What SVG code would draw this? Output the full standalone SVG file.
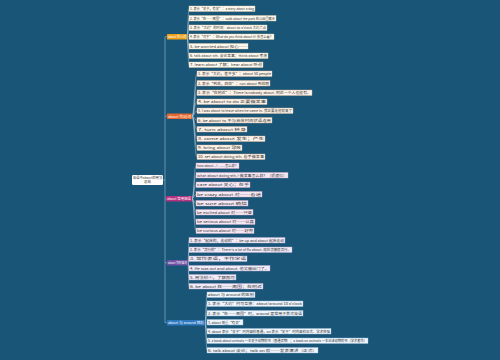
<svg xmlns="http://www.w3.org/2000/svg" width="500" height="360" viewBox="0 0 500 360">
<style>
text{font-family:"Noto Sans CJK SC","Noto Sans",sans-serif;font-size:3.4px;fill:#333}
.bt{fill:#fff;font-size:3.4px}
.leaf{stroke-width:0.4}
.l1{fill:#fffaf0;stroke:#d8c9a0}
.l2{fill:#fdf3ea;stroke:#d9b59c}
.l3{fill:#f6e8f3;stroke:#cfa6c4}
.l4{fill:#f1ecf8;stroke:#b8a8d4}
.l5{fill:#eef5fc;stroke:#9fbfdc}
.c{fill:none;stroke:#b7cddc;stroke-width:0.5}
</style>
<rect width="500" height="360" fill="#185577"/>
<g id="connectors">
<path class="c" d="M163,180 H165 M165,36.75 V322.75 M165,36.75 H167 M165,116.25 H167 M165,198.75 H166 M165,262.75 H167 M165,322.75 H167"/>
<path class="c" d="M187,36.75 C188,36.75 188,8.75 189,8.75 M187,36.75 C188,36.75 188,18.25 189,18.25 M187,36.75 C188,36.75 188,27.75 189,27.75 M187,36.75 H189 M187,36.75 C188,36.75 188,46.25 189,46.25 M187,36.75 C188,36.75 188,55.75 189,55.75 M187,36.75 C188,36.75 188,64.75 189,64.75"/>
<path class="c" d="M192,116.25 C194.5,116.25 194.5,73.75 197,73.75 M192,116.25 C194.5,116.25 194.5,83.25 197,83.25 M192,116.25 C194.5,116.25 194.5,92.75 197,92.75 M192,116.25 C194.5,116.25 194.5,101.75 197,101.75 M192,116.25 C194.5,116.25 194.5,110.75 197,110.75 M192,116.25 C194.5,116.25 194.5,120.25 197,120.25 M192,116.25 C194.5,116.25 194.5,129.25 197,129.25 M192,116.25 C194.5,116.25 194.5,138.75 197,138.75 M192,116.25 C194.5,116.25 194.5,147.75 197,147.75 M192,116.25 C194.5,116.25 194.5,156.75 197,156.75"/>
<path class="c" d="M192,198.75 C194,198.75 194,165.75 196,165.75 M192,198.75 C194,198.75 194,175.25 196,175.25 M192,198.75 C194,198.75 194,184.75 196,184.75 M192,198.75 C194,198.75 194,194.25 196,194.25 M192,198.75 C194,198.75 194,203.25 196,203.25 M192,198.75 C194,198.75 194,212.25 196,212.25 M192,198.75 C194,198.75 194,221.75 196,221.75 M192,198.75 C194,198.75 194,230.75 196,230.75"/>
<path class="c" d="M188,262.75 C188.5,262.75 188.5,240.25 189,240.25 M188,262.75 C188.5,262.75 188.5,249.75 189,249.75 M188,262.75 C188.5,262.75 188.5,258.75 189,258.75 M188,262.75 C188.5,262.75 188.5,268.25 189,268.25 M188,262.75 C188.5,262.75 188.5,277.25 189,277.25 M188,262.75 C188.5,262.75 188.5,286.25 189,286.25"/>
<path class="c" d="M205,322.75 C206,322.75 206,294.75 207,294.75 M205,322.75 C206,322.75 206,303.75 207,303.75 M205,322.75 C206,322.75 206,313.25 207,313.25 M205,322.75 H207 M205,322.75 C206,322.75 206,331.25 207,331.25 M205,322.75 C206,322.75 206,340.75 207,340.75 M205,322.75 C206,322.75 206,350.25 207,350.25"/>
</g>
<g id="root"><rect x="132" y="175" width="31" height="10" rx="1.2" fill="#fff"/><text x="147.5" y="179.3" text-anchor="middle" font-size="3.4">英语中about的用法</text><text x="147.5" y="183.4" text-anchor="middle" font-size="3.4">总结</text></g>
<g id="b1"><rect x="167" y="34" width="20" height="5.5" rx="0.6" fill="#eea21b"/><text class="bt" x="168" y="38" textLength="18" lengthAdjust="spacingAndGlyphs">about 作介词</text></g>
<g id="b1l1"><rect class="leaf l1" x="189" y="6" width="66" height="5.5"/><text x="190" y="10" textLength="64" lengthAdjust="spacingAndGlyphs">1. 表示“关于，有关”：a story about a dog</text></g>
<g id="b1l2"><rect class="leaf l1" x="189" y="15.5" width="87" height="5.5"/><text x="190" y="19.5" textLength="85" lengthAdjust="spacingAndGlyphs">2. 表示“在……周围”：walk about the park 在公园里散步</text></g>
<g id="b1l3"><rect class="leaf l1" x="189" y="25" width="78" height="5.5"/><text x="190" y="29" textLength="76" lengthAdjust="spacingAndGlyphs">3. 表示“大约”的时间：about six o'clock 大约六点</text></g>
<g id="b1l4"><rect class="leaf l1" x="189" y="34" width="85" height="5.5"/><text x="190" y="38" textLength="83" lengthAdjust="spacingAndGlyphs">4. 表示“对于”：What do you think about it? 你怎么看？</text></g>
<g id="b1l5"><rect class="leaf l1" x="189" y="43.5" width="59" height="5.5"/><text x="190" y="47.5" textLength="57" lengthAdjust="spacingAndGlyphs">5. be worried about 担心……</text></g>
<g id="b1l6"><rect class="leaf l1" x="189" y="53" width="79" height="5.5"/><text x="190" y="57" textLength="77" lengthAdjust="spacingAndGlyphs">6. talk about sth. 谈论某事；think about 考虑</text></g>
<g id="b1l7"><rect class="leaf l1" x="189" y="62" width="74" height="5.5"/><text x="190" y="66" textLength="72" lengthAdjust="spacingAndGlyphs">7. learn about 了解；hear about 听说</text></g>
<g id="b2"><rect x="167" y="113.5" width="25" height="5.5" rx="0.6" fill="#e4662c"/><text class="bt" x="168" y="117.5" textLength="23" lengthAdjust="spacingAndGlyphs">about 作副词</text></g>
<g id="b2l1"><rect class="leaf l2" x="197" y="71" width="75" height="5.5"/><text x="198" y="75" textLength="73" lengthAdjust="spacingAndGlyphs">1. 表示“大约，差不多”：about 50 people</text></g>
<g id="b2l2"><rect class="leaf l2" x="197" y="80.5" width="73" height="5.5"/><text x="198" y="84.5" textLength="71" lengthAdjust="spacingAndGlyphs">2. 表示“到处，四处”：run about 到处跑</text></g>
<g id="b2l3"><rect class="leaf l2" x="197" y="90" width="115" height="5.5"/><text x="198" y="94" textLength="113" lengthAdjust="spacingAndGlyphs">3. 表示“在附近”：There is nobody about. 附近一个人也没有。</text></g>
<g id="b2l4"><rect class="leaf l2" x="197" y="99" width="70" height="5.5"/><text x="198" y="103" textLength="68" lengthAdjust="spacingAndGlyphs">4. be about to do 正要做某事</text></g>
<g id="b2l5"><rect class="leaf l2" x="197" y="108" width="96" height="5.5"/><text x="198" y="112" textLength="94" lengthAdjust="spacingAndGlyphs">5. I was about to leave when he came in. 我正要走他就来了</text></g>
<g id="b2l6"><rect class="leaf l2" x="197" y="117.5" width="75" height="5.5"/><text x="198" y="121.5" textLength="73" lengthAdjust="spacingAndGlyphs">6. be about to 不与具体时间状语连用</text></g>
<g id="b2l7"><rect class="leaf l2" x="197" y="126.5" width="50" height="5.5"/><text x="198" y="130.5" textLength="48" lengthAdjust="spacingAndGlyphs">7. turn about 转身</text></g>
<g id="b2l8"><rect class="leaf l2" x="197" y="136" width="68" height="5.5"/><text x="198" y="140" textLength="66" lengthAdjust="spacingAndGlyphs">8. come about 发生；产生</text></g>
<g id="b2l9"><rect class="leaf l2" x="197" y="145" width="45" height="5.5"/><text x="198" y="149" textLength="43" lengthAdjust="spacingAndGlyphs">9. bring about 导致</text></g>
<g id="b2l10"><rect class="leaf l2" x="197" y="154" width="68" height="5.5"/><text x="198" y="158" textLength="66" lengthAdjust="spacingAndGlyphs">10. set about doing sth. 着手做某事</text></g>
<g id="b3"><rect x="166" y="196" width="26" height="5.5" rx="0.6" fill="#b5307f"/><text class="bt" x="167" y="200" textLength="24" lengthAdjust="spacingAndGlyphs">about 常用短语</text></g>
<g id="b3l1"><rect class="leaf l3" x="196" y="163" width="43" height="5.5"/><text x="197" y="167" textLength="41" lengthAdjust="spacingAndGlyphs">how about...? ……怎么样？</text></g>
<g id="b3l2"><rect class="leaf l3" x="196" y="172.5" width="92" height="5.5"/><text x="197" y="176.5" textLength="90" lengthAdjust="spacingAndGlyphs">what about doing sth.? 做某事怎么样？（提建议）</text></g>
<g id="b3l3"><rect class="leaf l3" x="196" y="182" width="54" height="5.5"/><text x="197" y="186" textLength="52" lengthAdjust="spacingAndGlyphs">care about 关心；在乎</text></g>
<g id="b3l4"><rect class="leaf l3" x="196" y="191.5" width="66" height="5.5"/><text x="197" y="195.5" textLength="64" lengthAdjust="spacingAndGlyphs">be crazy about 对……着迷</text></g>
<g id="b3l5"><rect class="leaf l3" x="196" y="200.5" width="52" height="5.5"/><text x="197" y="204.5" textLength="50" lengthAdjust="spacingAndGlyphs">be sure about 确信</text></g>
<g id="b3l6"><rect class="leaf l3" x="196" y="209.5" width="57" height="5.5"/><text x="197" y="213.5" textLength="55" lengthAdjust="spacingAndGlyphs">be excited about 对……兴奋</text></g>
<g id="b3l7"><rect class="leaf l3" x="196" y="219" width="59" height="5.5"/><text x="197" y="223" textLength="57" lengthAdjust="spacingAndGlyphs">be serious about 对……认真</text></g>
<g id="b3l8"><rect class="leaf l3" x="196" y="228" width="58" height="5.5"/><text x="197" y="232" textLength="56" lengthAdjust="spacingAndGlyphs">be curious about 对……好奇</text></g>
<g id="b4"><rect x="167" y="260" width="21" height="5.5" rx="0.6" fill="#6e4fa3"/><text class="bt" x="168" y="264" textLength="19" lengthAdjust="spacingAndGlyphs">about 作形容词</text></g>
<g id="b4l1"><rect class="leaf l4" x="189" y="237.5" width="96" height="5.5"/><text x="190" y="241.5" textLength="94" lengthAdjust="spacingAndGlyphs">1. 表示“起床的，走动的”：be up and about 起床走动</text></g>
<g id="b4l2"><rect class="leaf l4" x="189" y="247" width="103" height="5.5"/><text x="190" y="251" textLength="101" lengthAdjust="spacingAndGlyphs">2. 表示“流行的”：There is a lot of flu about. 现在流感很流行。</text></g>
<g id="b4l3"><rect class="leaf l4" x="189" y="256" width="58" height="5.5"/><text x="190" y="260" textLength="56" lengthAdjust="spacingAndGlyphs">3. 常作表语，不作定语</text></g>
<g id="b4l4"><rect class="leaf l4" x="189" y="265.5" width="81" height="5.5"/><text x="190" y="269.5" textLength="79" lengthAdjust="spacingAndGlyphs">4. He was out and about. 他又能出门了。</text></g>
<g id="b4l5"><rect class="leaf l4" x="189" y="274.5" width="47" height="5.5"/><text x="190" y="278.5" textLength="45" lengthAdjust="spacingAndGlyphs">5. 用法较少，了解即可</text></g>
<g id="b4l6"><rect class="leaf l4" x="189" y="283.5" width="74" height="5.5"/><text x="190" y="287.5" textLength="72" lengthAdjust="spacingAndGlyphs">6. be about 在……周围；在附近</text></g>
<g id="b5"><rect x="167" y="320" width="38" height="5.5" rx="0.6" fill="#2e78c0"/><text class="bt" x="168" y="324" textLength="36" lengthAdjust="spacingAndGlyphs">about 与 around 辨析</text></g>
<g id="b5l1"><rect class="leaf l5" x="207" y="292" width="48" height="5.5"/><text x="208" y="296" textLength="46" lengthAdjust="spacingAndGlyphs">about 与 around 的区别</text></g>
<g id="b5l2"><rect class="leaf l5" x="207" y="301" width="96" height="5.5"/><text x="208" y="305" textLength="94" lengthAdjust="spacingAndGlyphs">1. 表示“大约”时可互换：about/around 10 o'clock</text></g>
<g id="b5l3"><rect class="leaf l5" x="207" y="310.5" width="96" height="5.5"/><text x="208" y="314.5" textLength="94" lengthAdjust="spacingAndGlyphs">2. 表示“在……周围”时，around 更常用于美式英语</text></g>
<g id="b5l4"><rect class="leaf l5" x="207" y="319.5" width="36" height="5.5"/><text x="208" y="323.5" textLength="34" lengthAdjust="spacingAndGlyphs">3. about 侧重“有关”</text></g>
<g id="b5l5"><rect class="leaf l5" x="207" y="328.5" width="124" height="5.5"/><text x="208" y="332.5" textLength="122" lengthAdjust="spacingAndGlyphs">4. about 表示“关于”时内容较普通，on 表示“关于”时内容较正式、学术性强</text></g>
<g id="b5l6"><rect class="leaf l5" x="207" y="338" width="161" height="5.5"/><text x="208" y="342" textLength="159" lengthAdjust="spacingAndGlyphs">5. a book about animals 一本关于动物的书（普通读物）；a book on animals 一本论述动物的书（学术著作）</text></g>
<g id="b5l7"><rect class="leaf l5" x="207" y="347.5" width="111" height="5.5"/><text x="208" y="351.5" textLength="109" lengthAdjust="spacingAndGlyphs">6. talk about 谈论；talk on 就……发表演讲（正式）</text></g>
</svg>
